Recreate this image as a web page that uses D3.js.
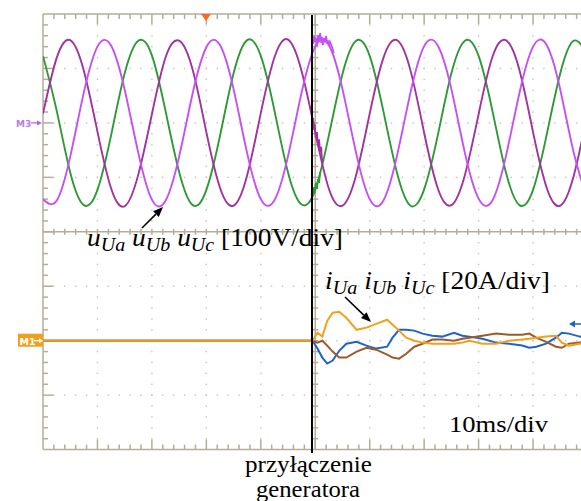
<!DOCTYPE html>
<html><head><meta charset="utf-8">
<script src="https://cdn.jsdelivr.net/npm/d3@7"></script>
<style>body{margin:0;background:#fff}svg{display:block}</style>
</head><body>
<svg id="c" width="581" height="501"></svg>
<script>
// ---- data ----
// voltage samples every 2.5 ms, in volts (100 V/div)
const tV = [0,2.5,5,7.5,10,12.5,15,17.5,20,22.5,25,27.5,30,32.5,35,37.5,40,42.5,45,47.5,
            50,52.5,55,57.5,60,62.5,65,67.5,70,72.5,75,77.5,80,82.5,85,87.5,90,92.5,95,97.5,100];
const uA = [17,119,152,96,-16,-120,-153,-95,16,120,151,97,-17,-119,-152,-96,18,120,153,95,
            -17,-121,-152,-96,17,119,152,96,-18,-120,-151,-95,16,120,152,97,-17,-119,-152,-96,17];
const uB = [-140,-143,-62,56,140,142,61,-55,-141,-143,-62,55,139,143,62,-56,-140,-142,-61,56,
            140,143,62,-55,-140,-143,-61,56,141,142,62,-56,-139,-143,-62,55,140,143,61,-56,-140];
const uC = [123,23,-91,-151,-123,-23,91,151,124,22,-90,-151,-123,-24,91,152,123,23,-91,-150,
            -123,-23,90,151,123,22,-91,-152,-122,-23,91,151,123,24,-90,-151,-123,-22,91,151,123];
// switching transient on the voltages (fine samples)
const tNB = [49.6,49.8,49.9,50.1,50.3,50.5,50.7,50.9,51.1,51.2,51.4,51.6,51.8,52.0,52.2,52.3,52.5,52.7,53.1,53.4];
const uNB = [145,160,149,156,141,161,150,165,147,158,143,156,148,160,145,152,141,149,139,128];
const tNA = [49.6,49.8,49.9,50.1,50.3,50.5,50.7,50.9,51.1,51.2,51.4];
const uNA = [9,-13,-2,-28,-17,-43,-30,-54,-44,-65,-72];
const tNC = [49.6,49.8,49.9,50.1,50.3,50.5,50.7,50.9];
const uNC = [-134,-118,-129,-110,-121,-103,-110,-90];
// currents in amperes (20 A/div)
const tI = [0,12,24,36,49.5,50.4,51.3,52.2,53.2,54.4,55.7,57.6,59.4,61.2,63.2,64.2,65.4,66.7,68.2,69.7,
            71.5,73.3,75.5,77.0,78.3,80.7,83.2,85.6,88.0,89.3,90.6,92.4,94.2,95.3,96.6,98.6,100];
const iA = [0,0,0,0,0,2.9,1.5,7.3,10.3,10.6,8.4,4.0,4.8,6.2,7.7,5.9,3.7,1.1,0,-0.7,
            -1.1,-1.1,-1.1,-0.7,0,-1.1,-1.1,0,0.4,0.7,1.1,1.5,1.8,-0.7,-1.8,-1.1,-0.8];
const iB = [0,0,0,0,0,-2.9,-6.2,-8.4,-7.3,-3.7,-1.1,-0.4,-1.8,-2.9,-2.2,1.1,4.0,4.0,3.7,2.6,
            1.8,1.5,2.9,1.8,1.5,0.7,-0.7,-1.1,-1.8,-2.6,-2.2,-1.1,1.1,2.9,2.6,1.5,1.2];
const iC = [0,0,0,0,0,-0.7,0,-1.8,-4.0,-6.2,-6.2,-4.0,-2.6,-3.3,-5.1,-6.2,-6.6,-4.8,-2.2,-1.1,
            0.4,0.4,0,0.7,1.1,1.8,2.6,2.2,2.2,2.6,1.1,-0.4,-2.2,-2.6,-1.1,-0.7,-0.6];
const tSwitch = 49.4;
const labelU = ["u","Ua","u","Ub","u","Uc","[100V/div]"];
const labelI = ["i","Ua","i","Ub","i","Uc","[20A/div]"];

// ---- layout ----
const W = 581, X0 = 43, Y0 = 14, DIV = 54.45;
const svg = d3.select("#c");
const x = d3.scaleLinear().domain([0,100]).range([X0, X0 + 10*DIV]);
const yV = d3.scaleLinear().domain([-200,200]).range([Y0 + 4*DIV, Y0]);
const yI = d3.scaleLinear().domain([-40,40]).range([Y0 + 8*DIV, Y0 + 4*DIV]);
const frameC = "#b3ae98", dotC = "#c6c2b0";
const YB = Y0 + 8*DIV, YM = Y0 + 4*DIV, XM = X0 + 5*DIV;

const defs = svg.append("defs");
defs.append("clipPath").attr("id","clip").append("rect")
  .attr("x",X0).attr("y",Y0).attr("width",W-X0).attr("height",8*DIV);

const g = svg.append("g");
// grid dots
for (let k = 1; k < 10; k++) {
  if (k === 5) continue;
  const gx = X0 + k*DIV;
  for (let j = 1; j < 40; j++) g.append("rect").attr("x",gx-0.7).attr("y",Y0 + j*DIV/5 - 0.7)
    .attr("width",1.4).attr("height",1.4).attr("fill",dotC);
}
for (let k = 1; k < 8; k++) {
  if (k === 4) continue;
  const gy = Y0 + k*DIV;
  for (let j = 1; j < 50; j++) { const gx = X0 + j*DIV/5; if (gx > W) break;
    g.append("rect").attr("x",gx-0.7).attr("y",gy-0.7).attr("width",1.4).attr("height",1.4).attr("fill",dotC); }
}
// frame lines
const ln = (x1,y1,x2,y2,c,w) => g.append("line").attr("x1",x1).attr("y1",y1).attr("x2",x2).attr("y2",y2)
  .attr("stroke",c||frameC).attr("stroke-width",w||1.5);
ln(X0,Y0,W,Y0); ln(X0,YB,W,YB); ln(X0,Y0,X0,YB); ln(X0,YM,W,YM); ln(XM,Y0,XM,YB);
for (let j = 1; j < 50; j++) {
  const tx = X0 + j*DIV/5; if (tx > W) break;
  const major = j % 5 === 0;
  ln(tx, Y0, tx, Y0 + (major ? 10 : 5));
  ln(tx, YB, tx, YB - (major ? 10 : 5));
  ln(tx, YM - 3, tx, YM + 3);
}
for (let j = 1; j < 40; j++) {
  const ty = Y0 + j*DIV/5;
  const major = j % 5 === 0;
  ln(X0, ty, X0 + (major ? 10 : 5), ty);
  ln(XM - 3, ty, XM + 3, ty);
}

// traces
const traces = svg.append("g").attr("clip-path","url(#clip)");
const lineV = d3.line().x(d => x(d[0])).y(d => yV(d[1])).curve(d3.curveNatural);
const lineVl = d3.line().x(d => x(d[0])).y(d => yV(d[1]));
const lineI = d3.line().x(d => x(d[0])).y(d => yI(d[1]));
const colA = "#a0339f", colB = "#c450f6", colC = "#2f9a35";
const colIA = "#f0a01e", colIB = "#1e64c8", colIC = "#9c5a2a";
const zip = (t, v) => t.map((d,i) => [d, v[i]]);
[[uC,colC],[uA,colA],[uB,colB]].forEach(([v,c]) =>
  traces.append("path").attr("d", lineV(zip(tV,v))).attr("fill","none").attr("stroke",c).attr("stroke-width",1.9));
[[tNC,uNC,colC],[tNA,uNA,colA],[tNB,uNB,colB]].forEach(([t,v,c]) =>
  traces.append("path").attr("d", lineVl(zip(t,v))).attr("fill","none").attr("stroke",c).attr("stroke-width",1.8));
[[iB,colIB],[iC,colIC],[iA,colIA]].forEach(([v,c]) =>
  traces.append("path").attr("d", lineI(zip(tI,v))).attr("fill","none").attr("stroke",c).attr("stroke-width",2));

// markers
svg.append("path").attr("d","M201,14 L211,14 L206,21 Z").attr("fill","#ff6a1a");
const yV0 = yV(0);
svg.append("text").attr("x",16).attr("y",yV0+4).text("M3").attr("font-family","DejaVu Sans, sans-serif")
  .attr("font-size",9).attr("font-weight","bold").attr("fill","#b57ee6");
svg.append("line").attr("x1",31).attr("y1",yV0).attr("x2",38).attr("y2",yV0).attr("stroke","#b060e0").attr("stroke-width",1.2);
svg.append("path").attr("d",`M42,${yV0} L37,${yV0-2.5} L37,${yV0+2.5} Z`).attr("fill","#b060e0");
const yI0 = yI(0);
svg.append("rect").attr("x",18).attr("y",yI0-7).attr("width",25).attr("height",13).attr("fill","#f0a01e");
svg.append("text").attr("x",19.5).attr("y",yI0+4).text("M1").attr("font-family","DejaVu Sans, sans-serif")
  .attr("font-size",9.5).attr("font-weight","bold").attr("fill","#fff");
svg.append("line").attr("x1",34).attr("y1",yI0).attr("x2",40).attr("y2",yI0).attr("stroke","#fff").attr("stroke-width",1.2);
svg.append("path").attr("d",`M43,${yI0} L39,${yI0-2.5} L39,${yI0+2.5} Z`).attr("fill","#fff");
svg.append("line").attr("x1",574).attr("y1",324).attr("x2",581).attr("y2",324).attr("stroke",colIB).attr("stroke-width",1.5);
svg.append("path").attr("d","M569,324 L575,320.5 L575,327.5 Z").attr("fill",colIB);

// switching instant line
svg.append("line").attr("x1",x(tSwitch)).attr("x2",x(tSwitch)).attr("y1",15).attr("y2",453)
  .attr("stroke","#000").attr("stroke-width",2);

// arrows
const arrow = (x1,y1,x2,y2) => {
  const a = Math.atan2(y2-y1, x2-x1), L = 10, H = 4;
  const bx = x2 - L*Math.cos(a), by = y2 - L*Math.sin(a);
  svg.append("line").attr("x1",x1).attr("y1",y1).attr("x2",bx).attr("y2",by).attr("stroke","#000").attr("stroke-width",1.6);
  svg.append("path").attr("d",`M${x2},${y2} L${bx - H*Math.sin(a)},${by + H*Math.cos(a)} L${bx + H*Math.sin(a)},${by - H*Math.cos(a)} Z`).attr("fill","#000");
};
arrow(142,228,163,207);
arrow(345,297,371,322);

// labels
const serif = "Liberation Serif, Times New Roman, serif";
function label(parts, x0, y0, len, fs, sfs) {
  const t = svg.append("text").attr("x",x0).attr("y",y0).attr("font-family",serif).attr("font-size",fs)
    .attr("textLength",len).attr("lengthAdjust","spacingAndGlyphs");
  for (let i = 0; i < 6; i += 2) {
    t.append("tspan").attr("font-style","italic").attr("dy", i === 0 ? 0 : -5).text((i ? " " : "") + parts[i]);
    t.append("tspan").attr("font-style","italic").attr("font-size",sfs).attr("dy",5).text(parts[i+1]);
  }
  t.append("tspan").attr("dy",-5).text(" " + parts[6]);
}
label(labelU, 87, 246, 256, 26, 19);
label(labelI, 325, 289, 225, 26, 19);
svg.append("text").attr("x",449).attr("y",432).attr("font-family",serif).attr("font-size",24)
  .attr("textLength",99).attr("lengthAdjust","spacingAndGlyphs").text("10ms/div");
svg.append("text").attr("x",245).attr("y",472).attr("font-family",serif).attr("font-size",23)
  .attr("textLength",127).attr("lengthAdjust","spacingAndGlyphs").text("przyłączenie");
svg.append("text").attr("x",256).attr("y",497).attr("font-family",serif).attr("font-size",23)
  .attr("textLength",104).attr("lengthAdjust","spacingAndGlyphs").text("generatora");
</script>
</body></html>
